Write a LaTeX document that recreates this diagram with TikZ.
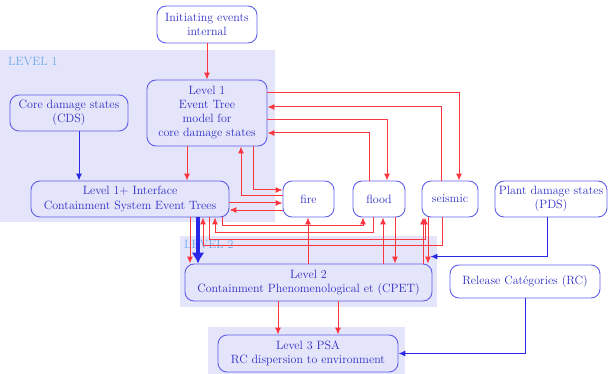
\documentclass[tikz,border=0pt]{standalone}
\usetikzlibrary{arrows.meta}
\definecolor{nodeblue}{RGB}{95,95,235}
\definecolor{textblue}{RGB}{45,45,195}
\definecolor{linkred}{RGB}{250,55,65}
\definecolor{zonefill}{RGB}{228,228,250}
\definecolor{zonelabel}{RGB}{110,170,235}
\definecolor{linkblue}{RGB}{40,40,230}

\begin{document}
\begin{tikzpicture}[x=1pt,y=-1pt,
  box/.style={draw=nodeblue, line width=0.9pt, rounded corners=9pt, text=textblue,
    align=center, font=\fontsize{12}{14}\selectfont, inner sep=0pt},
  ra/.style={color=linkred, line width=1pt, -{Latex[length=7pt,width=6pt]}},
  ba/.style={color=linkblue, line width=1pt, -{Latex[length=7pt,width=6pt]}},
  bigba/.style={color=linkblue, line width=4pt, -{Latex[length=11pt,width=13pt]}},
  zone/.style={fill=zonefill, draw=none},
  zonetext/.style={text=zonelabel, font=\fontsize{12}{14}\selectfont, inner sep=0pt, anchor=west}
]
\useasboundingbox (0,0) rectangle (610,374);

% shaded level zones
\fill[zone] (0,50) rectangle (275,222);
\fill[zone] (180,236) rectangle (437,307);
\fill[zone] (208,327) rectangle (405,374);
\node[zonetext] (lev1) at (8,62) {LEVEL 1};
\node[zonetext] (lev2) at (184,245) {LEVEL 2};

% nodes
\node[box, minimum width=100pt, minimum height=37pt] (init) at (207,24.5) {Initiating events\\internal};
\node[box, minimum width=120pt, minimum height=66pt] (L1) at (207,113) {Level 1\\Event Tree\\model for\\core damage states};
\node[box, minimum width=118pt, minimum height=36pt] (CDS) at (69,113) {Core damage states\\(CDS)};
\node[box, minimum width=198pt, minimum height=36pt] (IF) at (130,199) {Level 1+ Interface\\Containment System Event Trees};
\node[box, minimum width=51pt, minimum height=36pt] (fire) at (308.5,199) {fire};
\node[box, minimum width=52pt, minimum height=36pt] (flood) at (379,199) {flood};
\node[box, minimum width=56pt, minimum height=36pt] (seis) at (450,199) {seismic};
\node[box, minimum width=112pt, minimum height=36pt] (PDS) at (551,199) {Plant damage states\\(PDS)};
\node[box, minimum width=247pt, minimum height=37pt] (L2) at (308.5,282.5) {Level 2\\Containment Phenomenological et (CPET)};
\node[box, minimum width=150pt, minimum height=33pt] (RC) at (525,281.5) {Release Catégories (RC)};
\node[box, minimum width=180pt, minimum height=37pt] (L3) at (308,353.5) {Level 3 PSA\\RC dispersion to environment};

% level 1 links
\draw[ra] (init) -- (L1);
\draw[ba] (CDS.south -| 79,0) -- (IF.north -| 79,0);
\draw[ra] (L1.south -| 187,0) -- (IF.north -| 187,0);
\draw[ra] (L1.east |- 0,93) -| (seis.north -| 459,0);
\draw[ra] (seis.north -| 441,0) |- (L1.east |- 0,107);
\draw[ra] (L1.east |- 0,120) -| (flood.north -| 387,0);
\draw[ra] (flood.north -| 369,0) |- (L1.east |- 0,133);
\draw[ra] (L1.south -| 253,0) |- (fire.west |- 0,190);
\draw[ra] (fire.west |- 0,196) -| (L1.south -| 241,0);

% interface links
\draw[ra] (IF.east |- 0,203) -- (fire.west |- 0,203);
\draw[ra] (fire.west |- 0,210) -- (IF.east |- 0,210);
\draw[ra] (IF.south -| 222,0) |- (363,225) -- (flood.south -| 363,0);
\draw[ra] (flood.south -| 373,0) |- (215,232) -- (IF.south -| 215,0);
\draw[ra] (IF.south -| 209,0) |- (425,239) -- (seis.south -| 425,0);
\draw[ra] (seis.south -| 442,0) |- (203,245) -- (IF.south -| 203,0);
\draw[ra] (IF.south -| 190,0) -- (L2.north -| 190,0);
\draw[bigba] (IF.south -| 198,0) -- (L2.north -| 198,0);

% level 2 links
\draw[ra] (L2.north -| 308,0) -- (fire.south -| 308,0);
\draw[ra] (L2.north -| 383,0) -- (flood.south -| 383,0);
\draw[ra] (flood.south -| 395,0) -- (L2.north -| 395,0);
\draw[ra] (L2.north -| 423,0) -- (seis.south -| 423,0);
\draw[ra] (seis.south -| 428,0) -- (L2.north -| 428,0);
\draw[ba] (PDS.south -| 547,0) |- ([shift={(-2pt,7pt)}]L2.north east);

% level 3 links
\draw[ra] (L2.south -| 278,0) -- (L3.north -| 278,0);
\draw[ra] (L2.south -| 338,0) -- (L3.north -| 338,0);
\draw[ba] (RC.south -| 525,0) |- (L3.east);
\end{tikzpicture}
\end{document}
